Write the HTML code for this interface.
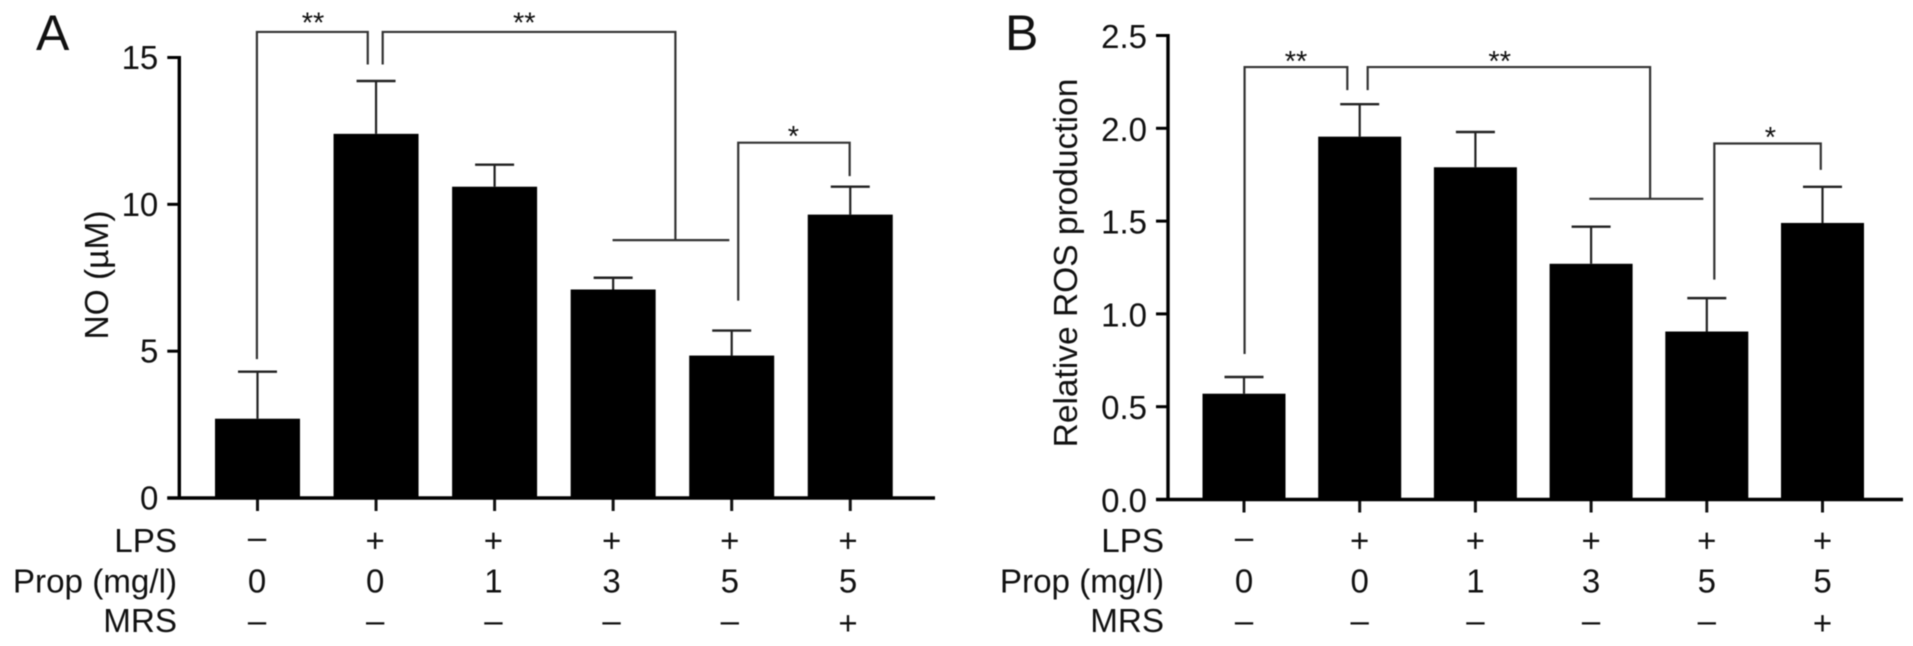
<!DOCTYPE html>
<html lang="en">
<head>
<meta charset="utf-8">
<title>NO and ROS production bar charts</title>
<style>
  html, body { margin: 0; padding: 0; background: #fff; }
  body { width: 1913px; height: 646px; overflow: hidden; }
  svg { display: block; filter: blur(0.55px); }
  text { font-family: "Liberation Sans", Arial, sans-serif; fill: #111; }
</style>
</head>
<body>
<svg id="figure" xmlns="http://www.w3.org/2000/svg" width="1913" height="646" viewBox="0 0 1913 646"></svg>
<script>
// Shared category rows
const lpsLabels  = ['–', '+', '+', '+', '+', '+'];
const propLabels = ['0', '0', '1', '3', '5', '5'];
const mrsLabels  = ['–', '–', '–', '–', '–', '+'];

// Panel A values
const noMeans = [2.7, 12.4, 10.6, 7.1, 4.85, 9.65];
const noErrorTops = [4.3, 14.2, 11.35, 7.5, 5.7, 10.6];
const noTicks = [0, 5, 10, 15];
const noTickLabels = ['0', '5', '10', '15'];

// Panel B values
const rosMeans = [0.57, 1.955, 1.79, 1.27, 0.905, 1.49];
const rosErrorTops = [0.66, 2.13, 1.98, 1.47, 1.085, 1.685];
const rosTicks = [0, 0.5, 1, 1.5, 2, 2.5];
const rosTickLabels = ['0.0', '0.5', '1.0', '1.5', '2.0', '2.5'];

const svg = document.getElementById('figure');
const NS = 'http://www.w3.org/2000/svg';

function mk(tag, attrs, parent) {
  const node = document.createElementNS(NS, tag);
  for (const k in attrs) node.setAttribute(k, attrs[k]);
  parent.appendChild(node);
  return node;
}

function label(parent, x, y, str, anchor, size) {
  const t = mk('text', { x: x, y: y, 'text-anchor': anchor, 'font-size': size }, parent);
  t.textContent = str;
  return t;
}

function drawPanel(p) {
  const g = mk('g', {}, svg);
  
  

  const yPos = v => p.y0 + (p.yTop - p.y0) * v / p.yMax;
  const xPos = i => p.x0 + p.step * i;
  const colPos = i => p.colX0 + p.colStep * i;

  // Panel letter
  const letter = label(g, p.letterX, 50, p.letter, 'start', 50);
  
  

  // Bars and error bars
  p.means.forEach((m, i) => {
    const bar = mk('rect', {
      x: xPos(i) - p.barW / 2, y: yPos(m), width: p.barW, height: p.y0 - yPos(m), fill: '#000'
    }, g);
    
    

    const stem = mk('line', {
      x1: xPos(i), x2: xPos(i), y1: yPos(m), y2: yPos(p.errs[i]), stroke: '#222', 'stroke-width': 2.2
    }, g);
    
    

    const cap = mk('line', {
      x1: xPos(i) - 19.5, x2: xPos(i) + 19.5, y1: yPos(p.errs[i]), y2: yPos(p.errs[i]), stroke: '#222', 'stroke-width': 2.4
    }, g);
    
    

    const tick = mk('line', {
      x1: xPos(i), x2: xPos(i), y1: p.y0, y2: p.y0 + 13, stroke: '#111', 'stroke-width': 3
    }, g);
    
    
  });

  // Axes
  const yAxis = mk('line', {
    x1: p.axisX, x2: p.axisX, y1: yPos(p.yMax) - 1.5, y2: p.y0 + 1.5, stroke: '#000', 'stroke-width': 3.4
  }, g);
  
  

  const xAxis = mk('line', {
    x1: p.axisX - 12, x2: p.xEnd, y1: p.y0, y2: p.y0, stroke: '#000', 'stroke-width': 3.4
  }, g);
  
  

  // Y ticks
  p.ticks.forEach((v, i) => {
    const t = mk('line', {
      x1: p.axisX - 12, x2: p.axisX, y1: yPos(v), y2: yPos(v), stroke: '#000', 'stroke-width': 3
    }, g);
    
    

    const tl = label(g, p.axisX - 21, yPos(v) + p.tickDy, p.tickLabels[i], 'end', 33);
    
    
  });

  // Y title
  const title = label(g, 0, 0, p.yTitle, 'middle', 33.5);
  title.setAttribute('transform', 'translate(' + p.titleX + ',' + p.titleY + ') rotate(-90)');
  
  

  // Category rows: the dash and plus glyphs sit at their own heights in each row
  const rows = [
    ['LPS', lpsLabels, 552, -3.5, 0],
    ['Prop (mg/l)', propLabels, 592.5, 0, 0],
    ['MRS', mrsLabels, 632, 0, 2.5]
  ];
  rows.forEach(r => {
    const rowName = label(g, p.rowLabelX, r[2], r[0], 'end', 33.2);
    
    
    r[1].forEach((s, i) => {
      const dy = s === '–' ? r[3] : (s === '+' ? r[4] : 0);
      const c = label(g, colPos(i), r[2] + dy, s, 'middle', 33);
      
      
    });
  });

  // Significance brackets, given in bar-index and value units
  p.brackets.forEach(b => {
    const d = b.pts.map((pt, i) => (i ? 'L' : 'M') + xPos(pt[0]) + ' ' + yPos(pt[1])).join(' ');
    const path = mk('path', { d: d, fill: 'none', stroke: '#333', 'stroke-width': 2.2 }, g);
    
    
  });
  p.crossbars.forEach(c => {
    const bar = mk('line', {
      x1: xPos(c[0]), x2: xPos(c[1]), y1: yPos(c[2]), y2: yPos(c[2]), stroke: '#333', 'stroke-width': 2.2
    }, g);
    
    
  });
  p.stars.forEach(s => {
    const st = label(g, xPos(s[0]), s[1], s[2], 'middle', 29);
    
    
  });
}

drawPanel({
  id: 'no', letter: 'A', letterX: 36,
  means: noMeans, errs: noErrorTops, ticks: noTicks, tickLabels: noTickLabels, yMax: 15,
  yTitle: 'NO (µM)', titleX: 108, titleY: 275, tickDy: 11.5,
  y0: 498, yTop: 57.5, axisX: 179.3, xEnd: 935,
  x0: 257.5, step: 118.55, colX0: 257, colStep: 118.2, barW: 85, rowLabelX: 177,
  brackets: [
    { pts: [[-0.005, 4.73], [-0.005, 15.87], [0.93, 15.87], [0.93, 14.76]] },
    { pts: [[1.056, 14.76], [1.056, 15.87], [3.525, 15.87], [3.525, 8.78]] },
    { pts: [[4.055, 6.72], [4.055, 12.1], [4.995, 12.1], [4.995, 10.96]] }
  ],
  crossbars: [[2.995, 3.98, 8.78]],
  stars: [[0.468, 32.5, '**'], [2.25, 32.5, '**'], [4.52, 146, '*']]
});

drawPanel({
  id: 'ros', letter: 'B', letterX: 1005,
  means: rosMeans, errs: rosErrorTops, ticks: rosTicks, tickLabels: rosTickLabels, yMax: 2.5,
  yTitle: 'Relative ROS production', titleX: 1077, titleY: 263, tickDy: 12.5,
  y0: 499.5, yTop: 35.5, axisX: 1168, xEnd: 1903,
  x0: 1244, step: 115.7, colX0: 1244, colStep: 115.7, barW: 83, rowLabelX: 1164,
  brackets: [
    { pts: [[0.005, 0.784], [0.005, 2.33], [0.893, 2.33], [0.893, 2.206]] },
    { pts: [[1.069, 2.206], [1.069, 2.33], [3.51, 2.33], [3.51, 1.62]] },
    { pts: [[4.065, 1.185], [4.065, 1.918], [4.985, 1.918], [4.985, 1.776]] }
  ],
  crossbars: [[2.985, 3.97, 1.62]],
  stars: [[0.45, 71, '**'], [2.21, 71, '**'], [4.55, 147, '*']]
});
</script>
</body>
</html>
